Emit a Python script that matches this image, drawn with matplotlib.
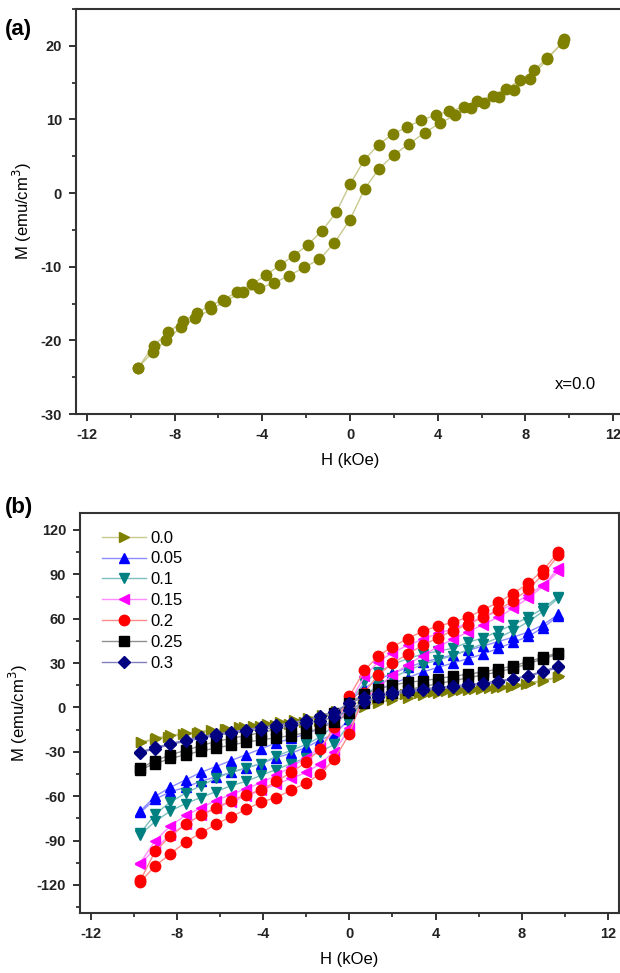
import matplotlib.pyplot as plt
from matplotlib.ticker import MultipleLocator

plt.rcParams['font.family'] = ['Liberation Sans', 'DejaVu Sans']
plt.rcParams['axes.unicode_minus'] = False

# ---- panel (a): x = 0.0, descending branch then ascending branch
h0_down = [9.75, 9.7, 9.0, 8.4, 7.75, 7.1, 6.5, 5.8, 5.2, 4.5, 3.9, 3.25, 2.6, 1.95, 1.3, 0.65, 0.0,
           -0.63, -1.27, -1.92, -2.57, -3.2, -3.83, -4.48, -5.14, -5.79, -6.4, -7.0, -7.6, -8.3, -8.95, -9.67]
m0_down = [21.0, 20.4, 18.4, 16.7, 15.3, 14.1, 13.2, 12.5, 11.7, 11.1, 10.6, 9.9, 9.0, 8.0, 6.6, 4.5, 1.2,
           -2.6, -5.1, -7.0, -8.5, -9.8, -11.1, -12.4, -13.4, -14.5, -15.3, -16.3, -17.4, -18.9, -20.7, -23.7]
h0_up = [-9.67, -9.0, -8.4, -7.7, -7.05, -6.35, -5.7, -4.9, -4.15, -3.45, -2.78, -2.1, -1.4, -0.72, 0.0,
         0.67, 1.32, 2.0, 2.7, 3.4, 4.1, 4.8, 5.5, 6.1, 6.8, 7.5, 8.2, 9.0, 9.7]
m0_up = [-23.7, -21.6, -20.0, -18.2, -17.0, -15.8, -14.7, -13.4, -12.9, -12.2, -11.2, -10.1, -9.0, -6.8, -3.6,
         0.6, 3.3, 5.2, 6.7, 8.2, 9.5, 10.6, 11.6, 12.3, 13.0, 14.0, 15.5, 18.2, 20.5]

# ---- panel (b): field grid, descending (+H -> -H); ascending lists run -H -> +H
h_grid = [9.7, 9.0, 8.3, 7.6, 6.9, 6.2, 5.5, 4.8, 4.1, 3.4, 2.7, 2.0, 1.35, 0.7, 0.0,
          -0.7, -1.35, -2.0, -2.7, -3.4, -4.1, -4.8, -5.5, -6.2, -6.9, -7.6, -8.3, -9.0, -9.7]

m05_down = [63, 56, 51, 47.5, 44.5, 41.5, 38.5, 35.5, 33, 30.5, 27, 23, 19, 13, 4,
            -8, -14, -18, -21, -24, -28, -32, -36, -40, -44, -49, -54, -60, -70]
m05_up = [-71, -62, -57, -54, -50, -47, -44, -41, -38, -34, -31, -27, -22, -18, -8,
          6, 12, 16, 20, 24, 27, 30, 33, 36, 40, 44, 48, 54, 62]

m10_down = [75, 67, 61, 56, 51.5, 47, 44, 40, 38, 36, 33, 29, 24, 17, 3,
            -12, -20, -25, -29, -33, -38, -41, -44, -48, -53, -58, -64, -72, -85]
m10_up = [-86, -77, -70, -65, -61, -57, -53, -50, -46, -42, -38, -34, -30, -25, -11,
          8, 15, 20, 25, 29, 32, 35, 39, 43, 47, 52, 58, 65, 74]

m15_down = [94, 83, 76, 70, 65, 61, 57, 53, 50, 46, 42, 37, 31, 21, 3,
            -16, -27, -34, -40, -46, -51, -55, -59, -63, -68, -73, -80, -90, -105]
m15_up = [-106, -95, -86, -79, -73, -68, -64, -60, -56, -52, -48, -44, -38, -30, -14,
          5, 14, 22, 29, 35, 41, 46, 51, 56, 61, 67, 74, 82, 92]

m20_down = [105, 93, 84, 77, 71, 66, 61, 57.5, 55, 51.5, 46.5, 41, 35, 25, 7.6,
            -13, -28, -37, -44, -50, -56, -59, -63, -68, -73, -79, -87, -97, -117]
m20_up = [-118, -107, -99, -91, -85, -79, -74, -69, -64, -61, -56, -51, -45, -35, -18,
          10, 22, 30, 36, 42, 47, 52, 56, 61, 66, 72, 80, 90, 103]

m25_down = [37, 34, 31, 28, 26, 24, 22.5, 21, 19.5, 18, 17, 15, 12.5, 9, 3,
            -4, -8, -11, -13, -15, -17, -19, -21, -23, -26, -29, -32, -36, -41]
m25_up = [-42, -38, -34.5, -32, -29.5, -27.5, -25.5, -23.5, -22, -20.5, -19, -17, -14, -10, -4,
          3, 7, 10, 12, 14, 16, 18, 20, 22, 24, 26.5, 29.5, 33, 36]

m30_down = [28, 24.5, 21.5, 19.5, 18, 16.5, 15.5, 14.5, 13.5, 12.5, 11.5, 10.5, 9, 7, 3,
            -3, -6, -8.5, -10.5, -12, -13.5, -15, -16.5, -18, -20, -22, -24.5, -27, -30]
m30_up = [-30.5, -28, -25, -23, -21, -19, -17.5, -16, -15, -13.5, -12, -10.5, -9, -6.5, -2,
          4, 7, 9, 10.5, 11.5, 12.5, 13.5, 14.5, 15.5, 17, 19, 21, 24, 27]

labels = ['0.0', '0.05', '0.1', '0.15', '0.2', '0.25', '0.3']
markers = ['>', '^', 'v', '<', 'o', 's', 'D']
colors = ['#7f7f00', '#0000ff', '#008080', '#ff00ff', '#ff0000', '#000000', '#000080']
line_colors = ['#c9c98f', '#8c8cff', '#7fbfbf', '#ff8cff', '#ff8c8c', '#909090', '#8080bf']

loops_h = [h0_down + h0_up] + [h_grid + h_grid[::-1]] * 6
loops_m = [m0_down + m0_up, m05_down + m05_up, m10_down + m10_up, m15_down + m15_up,
           m20_down + m20_up, m25_down + m25_up, m30_down + m30_up]

fig = plt.figure(figsize=(6.2, 9.73), dpi=100)
ax1 = fig.add_axes([0.1226, 0.5745, 0.8839, 0.4162])
ax2 = fig.add_axes([0.129, 0.0617, 0.869, 0.4111])


def style(ax):
    for s in ax.spines.values():
        s.set_linewidth(1.5)
        s.set_color('#333333')
    ax.xaxis.set_major_locator(MultipleLocator(4))
    ax.xaxis.set_minor_locator(MultipleLocator(2))
    ax.tick_params(which='major', direction='out', length=5, width=1.3, labelsize=10.5, pad=5,
                   colors='#222222')
    ax.tick_params(which='minor', direction='out', length=3, width=1.2, colors='#222222')
    for lab in ax.get_xticklabels() + ax.get_yticklabels():
        lab.set_fontweight('bold')
    ax.set_xlabel('H (kOe)', fontsize=12, labelpad=8)
    ax.set_ylabel('M (emu/cm$^3$)', fontsize=12, labelpad=5)


# panel (a)
ax1.plot(h0_down + h0_up, m0_down + m0_up, color=line_colors[0], lw=1.0, marker='o', ms=7.5,
         mfc=colors[0], mec=colors[0])
ax1.set_xlim(-12.5, 12.5)
ax1.set_ylim(-30, 25)
ax1.yaxis.set_major_locator(MultipleLocator(10))
ax1.yaxis.set_minor_locator(MultipleLocator(5))
style(ax1)
ax1.text(10.3, -26, 'x=0.0', fontsize=12, ha='center', va='center')

# panel (b)
for h, m, lab, mk, c, lc in zip(loops_h, loops_m, labels, markers, colors, line_colors):
    ax2.plot(h, m, color=lc, lw=1.0, marker=mk, ms=7.5 if mk != 'D' else 6.5,
             mfc=c, mec=c, label=lab)
ax2.set_xlim(-12.5, 12.5)
ax2.set_ylim(-139, 131.5)
ax2.yaxis.set_major_locator(MultipleLocator(30))
ax2.yaxis.set_minor_locator(MultipleLocator(15))
style(ax2)
ax2.legend(loc='upper left', frameon=False, fontsize=12, handlelength=2.6, handletextpad=0.3,
           labelspacing=0.35, borderaxespad=0.3, bbox_to_anchor=(0.02, 0.985))

fig.text(0.008, 1 - 30 / 973, '(a)', fontsize=16, fontweight='bold', va='center', ha='left')
fig.text(0.008, 1 - 508 / 973, '(b)', fontsize=16, fontweight='bold', va='center', ha='left')

fig.savefig('out.png', dpi=100)
